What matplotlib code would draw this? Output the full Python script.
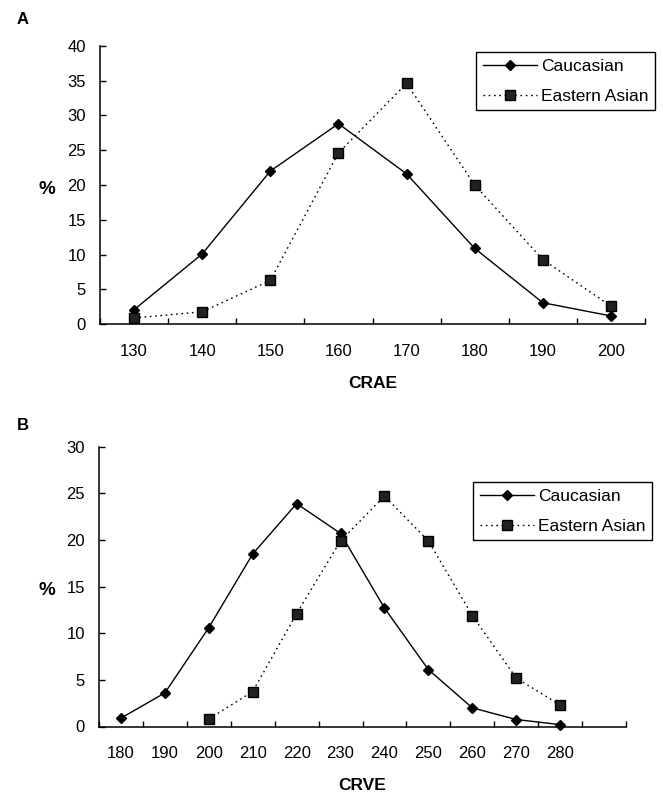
import matplotlib
matplotlib.use("Agg")
import matplotlib.pyplot as plt
import numpy as np

plt.rcParams["font.family"] = ["Liberation Sans", "DejaVu Sans"]

# panel A: CRAE
crae_cats = ["130", "140", "150", "160", "170", "180", "190", "200"]
crae_cauc = [2.1, 10.1, 22.0, 28.8, 21.6, 10.9, 3.1, 1.2]
crae_asian = [0.9, 1.8, 6.3, 24.6, 34.6, 20.0, 9.3, 2.6]

# panel B: CRVE (last category slot left empty)
crve_cats = ["180", "190", "200", "210", "220", "230", "240", "250", "260", "270", "280", ""]
crve_cauc = [0.9, 3.6, 10.6, 18.5, 23.9, 20.7, 12.7, 6.1, 2.0, 0.75, 0.2]
crve_asian = [0.8, 3.75, 12.1, 19.9, 24.7, 19.9, 11.9, 5.2, 2.3]
crve_asian_start = 2  # first Eastern Asian point is at 200

W, H = 663, 793
fig = plt.figure(figsize=(W / 100, H / 100), dpi=100)


def px(x, y):
    return x / W, 1 - y / H


def panel(box, cats, cauc, asian, asian_x0, ymax, xlabel, letter_y, letter, leg_xy):
    x0, y0, x1, y1 = box
    ax = fig.add_axes([x0 / W, 1 - y1 / H, (x1 - x0) / W, (y1 - y0) / H])
    n = len(cats)
    xc = np.arange(len(cauc))
    xa = np.arange(len(asian)) + asian_x0
    ax.plot(xc, cauc, "-", color="black", lw=1.0, marker="D", ms=5.5,
            mfc="black", mec="black", label="Caucasian")
    ax.plot(xa, asian, color="black", lw=1.0, ls=(0, (1.2, 2.6)), marker="s", ms=6.5,
            mfc="#222222", mec="black", label="Eastern Asian")
    ax.set_xlim(-0.5, n - 0.5)
    ax.set_ylim(0, ymax)
    ax.set_yticks(np.arange(0, ymax + 1, 5))
    # category ticks between groups, labels at centers
    ax.set_xticks(np.arange(-0.5, n, 1.0))
    ax.set_xticklabels([])
    ax.set_xticks(np.arange(n), minor=True)
    ax.set_xticklabels(cats, minor=True)
    ax.tick_params(axis="x", which="major", direction="in", length=4.5, width=1, color="black")
    ax.tick_params(axis="x", which="minor", length=0, pad=14, labelsize=12)
    ax.tick_params(axis="y", direction="in", length=4.5, width=1, pad=10, labelsize=12)
    for s in ["top", "right"]:
        ax.spines[s].set_visible(False)
    for s in ["left", "bottom"]:
        ax.spines[s].set_linewidth(1.1)
        ax.spines[s].set_color("black")
    for ln in ax.lines:
        ln.set_clip_on(False)

    leg = fig.legend(*ax.get_legend_handles_labels(), loc="upper right",
                     bbox_to_anchor=px(*leg_xy), fancybox=False, framealpha=1,
                     edgecolor="black", fontsize=12.5, handlelength=3.1, handletextpad=0.25,
                     labelspacing=0.85, borderpad=0.38, borderaxespad=0)
    leg.get_frame().set_linewidth(1.0)

    fig.text(*px(17, letter_y), letter, fontsize=12, fontweight="bold", ha="left", va="center")
    fig.text(*px(47, (y0 + y1) / 2 + 4), "%", fontsize=13.5, fontweight="bold",
             ha="center", va="center")
    fig.text(*px((x0 + x1) / 2, y1 + 59), xlabel, fontsize=12.5, fontweight="bold",
             ha="center", va="center")
    return ax


panel((100, 45.7, 645, 324.3), crae_cats, crae_cauc, crae_asian, 0, 40,
      "CRAE", 20, "A", (655, 52))
panel((99, 446.7, 626, 726.5), crve_cats, crve_cauc, crve_asian, crve_asian_start, 30,
      "CRVE", 425, "B", (652, 482))

fig.savefig("out.png", dpi=100, facecolor="white")
